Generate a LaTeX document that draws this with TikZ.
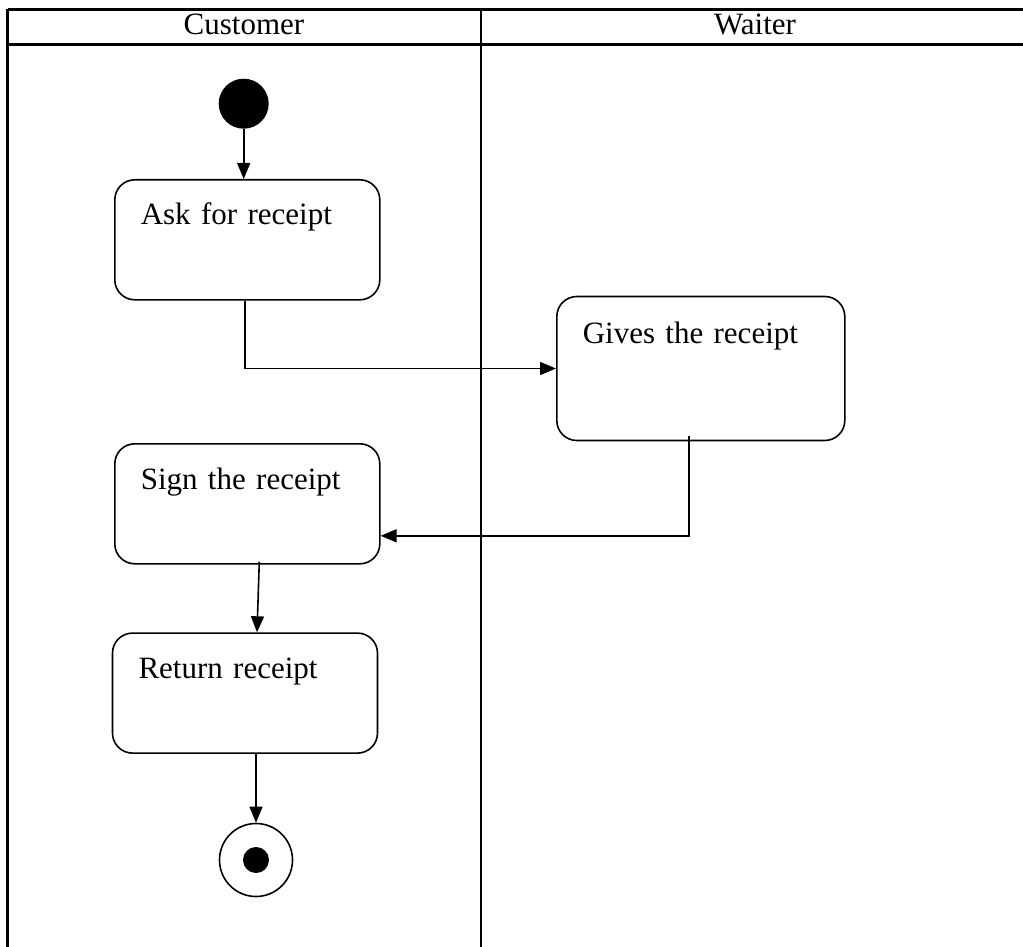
\documentclass[tikz,border=0pt]{standalone}
\usepackage{fontspec}
\setmainfont{Liberation Serif}
\usetikzlibrary{arrows.meta}

\tikzset{
  lane/.style={line width=2.2pt},
  actbox/.style={draw, line width=1.6pt, rounded corners=20pt, inner xsep=26pt, inner ysep=0pt,
    align=left, anchor=north west, font=\fontsize{31}{37}\selectfont,
    text height=45pt, text depth=75pt},
  flow/.style={line width=1.6pt, -{Triangle[length=16pt,width=13pt]}},
  head/.style={anchor=base, font=\fontsize{31}{37}\selectfont, inner sep=0pt},
}

\begin{document}
\begin{tikzpicture}[x=1pt,y=-1pt]
  \useasboundingbox (0,0) rectangle (1023,947);
  \begin{scope}
    \clip (0,0) rectangle (1023,947);
    % swimlane table
    \draw[lane] (7.5,9.5) -- (1040,9.5);
    \draw[lane] (7.5,44.5) -- (1040,44.5);
    \draw[lane] (7.5,9.5) -- (7.5,960);
    \draw[lane] (481,9.5) -- (481,960);
  \end{scope}
  \node[head] (hcust) at (244,35) {Customer};
  \node[head] (hwait) at (755,35) {Waiter};

  % initial and final states
  \node[circle, fill, minimum size=50pt, inner sep=0pt] (start) at (243.7,103.7) {};
  \node[circle, draw, line width=1.6pt, minimum size=73pt, inner sep=0pt] (end) at (256,860) {};
  \fill (end.center) circle (13pt);

  % activities
  \node[actbox, text width=213pt] (ask) at (114,179) {Ask for receipt};
  \node[actbox, text width=236pt, text height=47pt, text depth=97pt] (gives) at (556,295.7) {Gives the receipt};
  \node[actbox, text width=213pt, text height=46pt, text depth=74pt] (sign) at (114,443) {Sign the receipt};
  \node[actbox, text width=213pt] (ret) at (111.7,632.3) {Return receipt};

  % control flow
  \draw[flow] (start.south) -- (start.south |- ask.north);
  \draw[flow] ([xshift=-2.5pt]ask.south) |- (gives.west);
  \coordinate (gout) at ([xshift=-12pt,yshift=5pt]gives.south);
  \draw[flow] (gout) |- ([yshift=-32pt]sign.east);
  \draw[flow] ([xshift=12pt,yshift=3pt]sign.south) -- ([xshift=12pt]ret.north);
  \draw[flow] (ret.south -| end.north) -- (end.north);
\end{tikzpicture}
\end{document}
